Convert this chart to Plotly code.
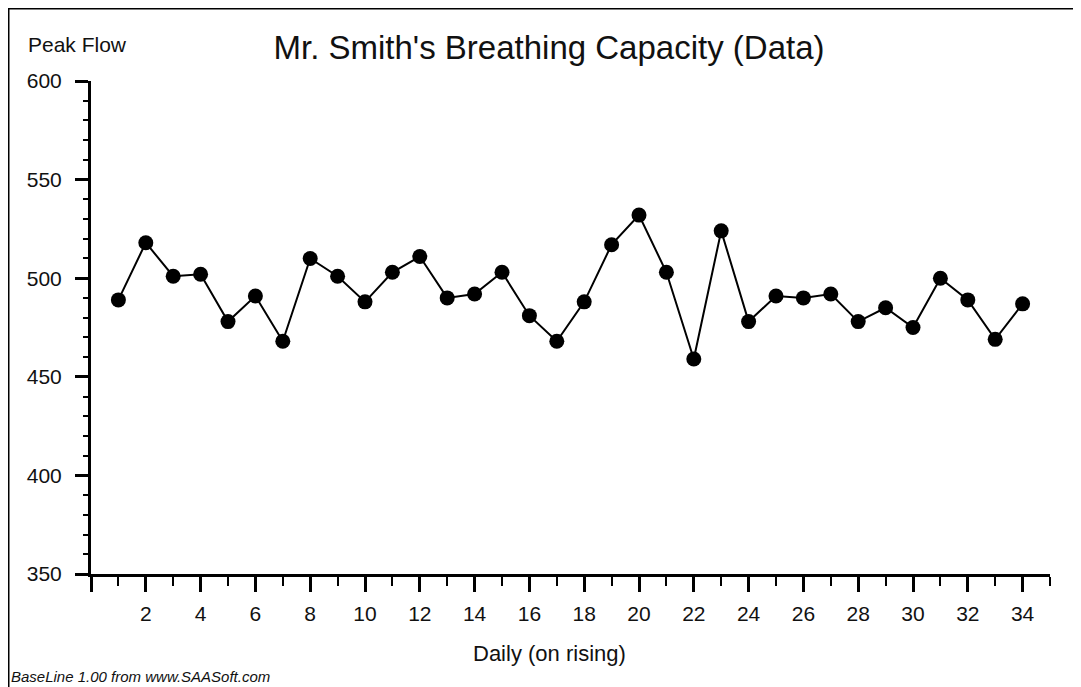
import plotly.graph_objects as go

days = list(range(1, 35))
peak_flow = [489, 518, 501, 502, 478, 491, 468, 510, 501, 488, 503, 511, 490, 492, 503, 481, 468,
             488, 517, 532, 503, 459, 524, 478, 491, 490, 492, 478, 485, 475, 500, 489, 469, 487]
x_tick_vals = list(range(0, 35, 2))
x_tick_text = [""] + [str(v) for v in range(2, 35, 2)]
y_tick_vals = [350, 400, 450, 500, 550, 600]

FONT = "Arial, Liberation Sans, sans-serif"
OFF = 8  # page body margin offset
FW, FH = 1081 - OFF, 687 - OFF  # figure size that fits the window

fig = go.Figure()
fig.add_trace(go.Scatter(
    x=days, y=peak_flow, mode="lines+markers",
    line=dict(color="black", width=2),
    marker=dict(symbol="circle", size=15, color="black"),
    showlegend=False, hoverinfo="x+y"))

fig.update_layout(
    width=FW, height=FH,
    margin=dict(l=91 - OFF, r=FW - (1050 - OFF), t=81 - OFF, b=FH - (574 - OFF)),
    paper_bgcolor="white", plot_bgcolor="white",
    font=dict(family=FONT, color="black"),
    title=dict(text="Mr. Smith's Breathing Capacity (Data)", x=(549 - OFF) / FW, xref="container",
               xanchor="center", y=1 - (47 - OFF) / FH, yref="container", yanchor="middle",
               font=dict(size=33, color="#111111", family=FONT)),
    xaxis=dict(range=[0, 35], showgrid=False, zeroline=False, showline=True,
               linecolor="black", linewidth=3,
               tickmode="array", tickvals=x_tick_vals, ticktext=x_tick_text,
               ticks="outside", ticklen=15, tickwidth=3, tickcolor="black",
               tickfont=dict(size=21, color="#111111", family=FONT),
               ticklabelstandoff=4,
               minor=dict(dtick=1, tick0=0, ticks="outside", ticklen=9, tickwidth=2,
                          tickcolor="black", showgrid=False)),
    yaxis=dict(range=[350, 600], showgrid=False, zeroline=False, showline=True,
               linecolor="black", linewidth=3,
               tickmode="array", tickvals=y_tick_vals,
               ticks="outside", ticklen=13, tickwidth=3, tickcolor="black",
               tickfont=dict(size=21, color="#111111", family=FONT),
               ticklabelstandoff=9,
               minor=dict(dtick=10, tick0=350, ticks="outside", ticklen=5, tickwidth=2,
                          tickcolor="black", showgrid=False)),
)

W, H = 959.0, 493.0  # plot area size in px
def px(xp):  # page pixel -> paper x
    return (xp - 91) / W
def py(yp):  # page pixel -> paper y
    return (574 - yp) / H

# frame lines (top and left)
fig.add_shape(type="line", xref="paper", yref="paper", x0=px(6), x1=px(1081), y0=py(8), y1=py(8),
              line=dict(color="black", width=3))
fig.add_shape(type="line", xref="paper", yref="paper", x0=px(8), x1=px(8), y0=py(6), y1=py(687),
              line=dict(color="black", width=3))

fig.add_annotation(text="Peak Flow", xref="paper", yref="paper", x=px(26), y=py(45),
                   xanchor="left", yanchor="middle", showarrow=False,
                   font=dict(size=21, color="#111111", family=FONT))
fig.add_annotation(text="Daily (on rising)", xref="paper", yref="paper", x=px(549), y=py(653),
                   xanchor="center", yanchor="middle", showarrow=False,
                   font=dict(size=22, color="#111111", family=FONT))
fig.add_annotation(text="<i>BaseLine 1.00 from www.SAASoft.com</i>", xref="paper", yref="paper",
                   x=px(9), y=py(676), xanchor="left", yanchor="middle", showarrow=False,
                   font=dict(size=15, color="#111111", family=FONT))

fig.write_html("out.html")
